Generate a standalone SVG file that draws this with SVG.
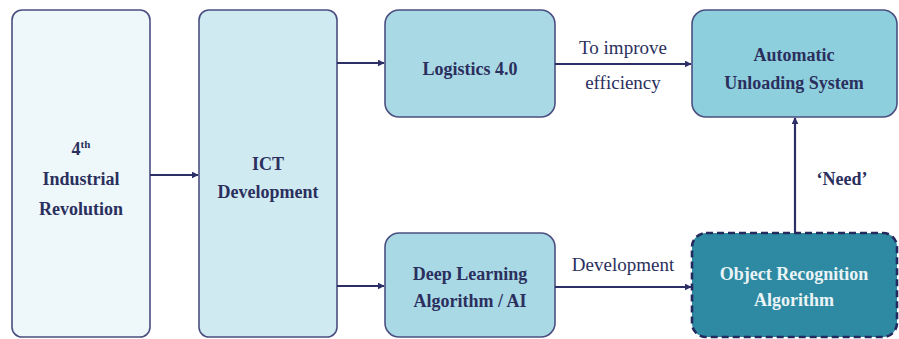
<svg xmlns="http://www.w3.org/2000/svg" width="899" height="339" viewBox="0 0 899 339">
<defs>
<marker id="ah" viewBox="0 0 10 10" refX="9" refY="5" markerWidth="7" markerHeight="7" markerUnits="userSpaceOnUse" orient="auto">
<path d="M0,0 L10,5 L0,10 z" fill="#2b2f66"/>
</marker>
<style>
.box{stroke:#4b4f80;stroke-width:1.6}
.t{font-family:'Liberation Serif','Times New Roman','DejaVu Serif',serif;font-weight:bold;font-size:18px;fill:#2b2f5e;text-anchor:middle}
.lbl{font-family:'Liberation Serif','Times New Roman','DejaVu Serif',serif;font-size:19px;fill:#2b2f5e;text-anchor:middle}
.c{stroke:#2b2f66;stroke-width:2.2;fill:none}
</style>
</defs>
<rect width="899" height="339" fill="#ffffff"/>
<g id="n-industrial">
<rect class="box" x="12" y="10" width="138" height="327" rx="10" fill="#eef8fa"/>
<text class="t" x="81" y="155" font-family="Liberation Serif, serif">4<tspan font-size="11" dy="-7">th</tspan></text>
<text class="t" x="81" y="185" font-family="Liberation Serif, serif">Industrial</text>
<text class="t" x="81" y="215" font-family="Liberation Serif, serif">Revolution</text>
</g>
<g id="n-ict">
<rect class="box" x="199" y="10" width="138" height="327" rx="10" fill="#d0eaf1"/>
<text class="t" x="268" y="170">ICT</text>
<text class="t" x="268" y="198">Development</text>
</g>
<g id="n-logistics">
<rect class="box" x="385" y="10" width="170" height="107" rx="14" fill="#a9d9e5"/>
<text class="t" x="470" y="75">Logistics 4.0</text>
</g>
<g id="n-automatic">
<rect class="box" x="692" y="10" width="205" height="107" rx="14" fill="#8ecfdd"/>
<text class="t" x="794" y="61">Automatic</text>
<text class="t" x="794" y="89">Unloading System</text>
</g>
<g id="n-deeplearning">
<rect class="box" x="385" y="233" width="170" height="104" rx="14" fill="#a9d9e5"/>
<text class="t" x="470" y="280">Deep Learning</text>
<text class="t" x="470" y="307">Algorithm / AI</text>
</g>
<g id="n-objrec">
<rect x="692" y="233" width="205" height="104" rx="14" fill="#2e8aa2" stroke="#242a5e" stroke-width="2.6" stroke-dasharray="7,4"/>
<text class="t" x="794" y="280" style="fill:#eaf4f7">Object Recognition</text>
<text class="t" x="794" y="306" style="fill:#eaf4f7">Algorithm</text>
</g>
<g id="connectors">
<line class="c" x1="150" y1="175" x2="198" y2="175" marker-end="url(#ah)"/>
<line class="c" x1="337" y1="63" x2="384" y2="63" marker-end="url(#ah)"/>
<line class="c" x1="337" y1="286" x2="384" y2="286" marker-end="url(#ah)"/>
<line class="c" x1="555" y1="64" x2="691" y2="64" marker-end="url(#ah)"/>
<line class="c" x1="555" y1="287" x2="691" y2="287" marker-end="url(#ah)"/>
<line class="c" x1="795" y1="232" x2="795" y2="118" marker-end="url(#ah)"/>
<text class="lbl" x="623" y="54">To improve</text>
<text class="lbl" x="623" y="89">efficiency</text>
<text class="lbl" x="623" y="271">Development</text>
<text class="t" x="842" y="185">‘Need’</text>
</g>
</svg>
